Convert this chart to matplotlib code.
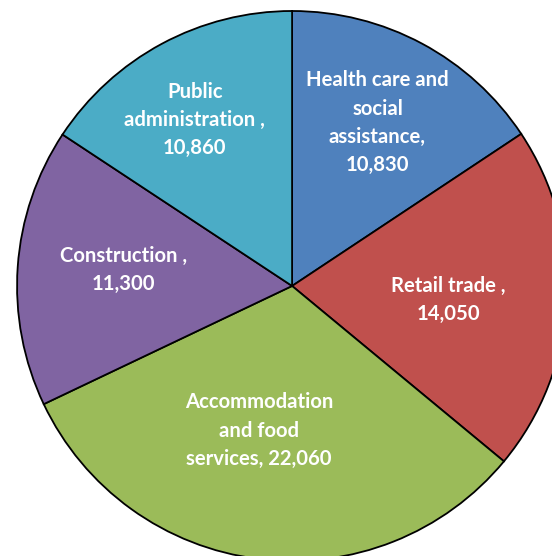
import numpy as np
import matplotlib.pyplot as plt

# employment by industry
sectors = ["Health care and social assistance", "Retail trade",
           "Accommodation and food services", "Construction",
           "Public administration"]
jobs = [10830, 14050, 22060, 11300, 10860]
label_fmt = ["Health care and\nsocial\nassistance,\n{:,}",
             "Retail trade ,\n{:,}",
             "Accommodation\nand food\nservices, {:,}",
             "Construction ,\n{:,}",
             "Public\nadministration ,\n{:,}"]
colors = ["#4F81BD", "#C0504D", "#9BBB59", "#8064A2", "#4BACC6"]

# label placement: radial distance and angle shift (deg) from wedge middle
lab_r = [0.67, 0.57, 0.54, 0.615, 0.70]
lab_dth = [0.6, -2.0, -5.8, -1.4, 2.1]

fig = plt.figure(figsize=(5.52, 5.56), dpi=100)
ax = fig.add_axes([0, 0, 1, 1])

wedges, _ = ax.pie(jobs, colors=colors, startangle=90, counterclock=False,
                   radius=1.0,
                   wedgeprops=dict(edgecolor="black", linewidth=1.3))

for w, fmt, v, r, dth in zip(wedges, label_fmt, jobs, lab_r, lab_dth):
    th = np.deg2rad((w.theta1 + w.theta2) / 2 + dth)
    ax.text(r * np.cos(th), r * np.sin(th), fmt.format(v),
            ha="center", va="center", color="white", fontsize=14.6,
            fontweight="bold", family="Lato", linespacing=1.52)

ax.set_xlim(-1.062, 0.945)
ax.set_ylim(-0.982, 1.04)
ax.set_aspect("auto")
ax.axis("off")

fig.savefig("out.png", dpi=100)
